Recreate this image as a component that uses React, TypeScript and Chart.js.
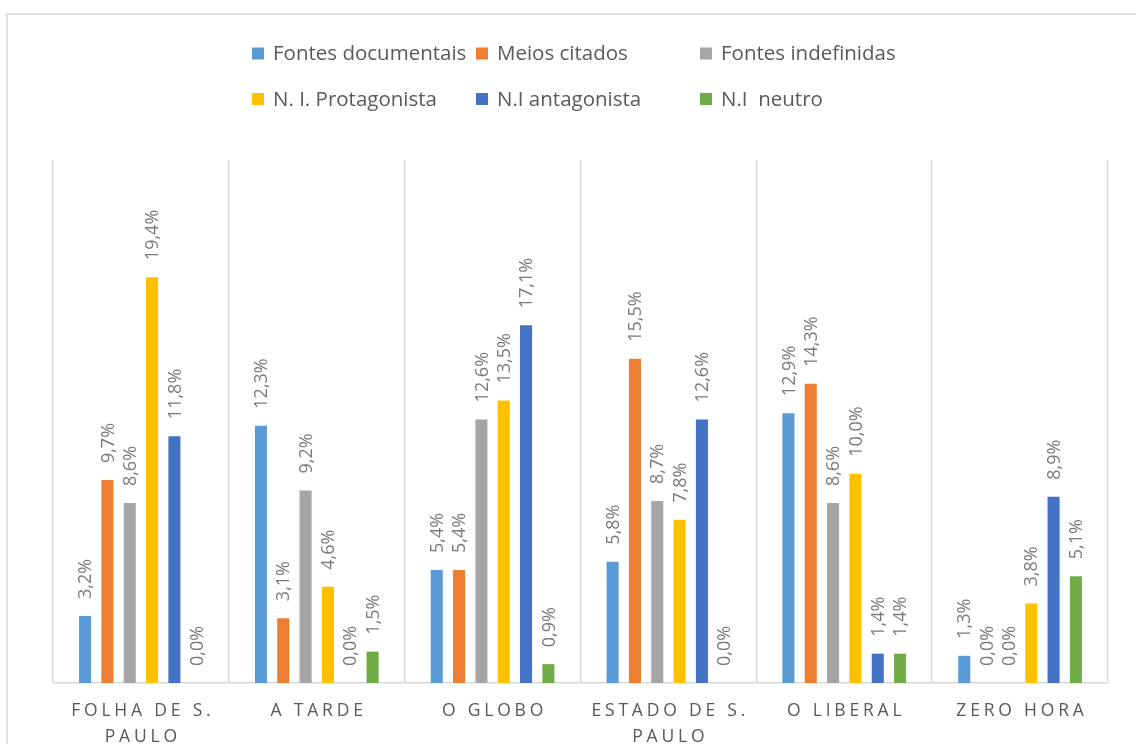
import React, { useEffect, useRef } from "react";
import { Chart, registerables } from "chart.js";

Chart.register(...registerables);

const categories: string[][] = [
  ["FOLHA DE S.", "PAULO"],
  ["A TARDE"],
  ["O GLOBO"],
  ["ESTADO DE S.", "PAULO"],
  ["O LIBERAL"],
  ["ZERO HORA"],
];

const seriesNames = [
  "Fontes documentais",
  "Meios citados",
  "Fontes indefinidas",
  "N. I. Protagonista",
  "N.I antagonista",
  "N.I  neutro",
];

const seriesColors = ["#5B9BD5", "#ED7D31", "#A5A5A5", "#FFC000", "#4472C4", "#70AD47"];

const fontesDocumentais = [3.2, 12.3, 5.4, 5.8, 12.9, 1.3];
const meiosCitados = [9.7, 3.1, 5.4, 15.5, 14.3, 0.0];
const fontesIndefinidas = [8.6, 9.2, 12.6, 8.7, 8.6, 0.0];
const niProtagonista = [19.4, 4.6, 13.5, 7.8, 10.0, 3.8];
const niAntagonista = [11.8, 0.0, 17.1, 12.6, 1.4, 8.9];
const niNeutro = [0.0, 1.5, 0.9, 0.0, 1.4, 5.1];

const seriesValues = [fontesDocumentais, meiosCitados, fontesIndefinidas, niProtagonista, niAntagonista, niNeutro];

const FONT = "'Open Sans', 'Liberation Sans', sans-serif";

const decorPlugin = {
  id: "decor",
  beforeDraw(chart: any) {
    const ctx = chart.ctx;
    ctx.save();
    ctx.fillStyle = "#ffffff";
    ctx.fillRect(0, 0, chart.width, chart.height);
    ctx.strokeStyle = "#d9d9d9";
    ctx.lineWidth = 1.5;
    ctx.strokeRect(7, 14, chart.width + 50, chart.height + 50);
    ctx.restore();
  },
  afterDraw(chart: any) {
    const ctx = chart.ctx;
    ctx.save();
    // legend
    const colX = [252, 476, 700];
    const rowY = [53.5, 99];
    ctx.font = `20.5px ${FONT}`;
    ctx.textBaseline = "middle";
    ctx.textAlign = "left";
    chart.data.datasets.forEach((ds: any, i: number) => {
      const x = colX[i % 3];
      const y = rowY[Math.floor(i / 3)];
      ctx.fillStyle = ds.backgroundColor;
      ctx.fillRect(x, y - 6, 12, 12);
      ctx.fillStyle = "#595959";
      ctx.fillText(ds.label, x + 21, y + 1);
    });
    // value labels
    ctx.font = `18px ${FONT}`;
    ctx.fillStyle = "#7a7a7a";
    chart.data.datasets.forEach((ds: any, i: number) => {
      const meta = chart.getDatasetMeta(i);
      meta.data.forEach((bar: any, j: number) => {
        const v = ds.data[j];
        const txt = v.toFixed(1).replace(".", ",") + "%";
        ctx.save();
        ctx.translate(bar.x, bar.y - 17);
        ctx.rotate(-Math.PI / 2);
        ctx.textAlign = "left";
        ctx.textBaseline = "middle";
        ctx.fillText(txt, 0, 1);
        ctx.restore();
      });
    });
    // x labels
    const xScale = chart.scales.x;
    ctx.font = `17.5px ${FONT}`;
    ctx.fillStyle = "#595959";
    ctx.textAlign = "center";
    ctx.textBaseline = "middle";
    const ls = 3.8;
    (ctx as any).letterSpacing = `${ls}px`;
    categories.forEach((lines, i) => {
      const cx = xScale.getPixelForValue(i);
      lines.forEach((line, k) => {
        ctx.fillText(line, cx + ls / 2, 711 + k * 26);
      });
    });
    (ctx as any).letterSpacing = "0px";
    ctx.restore();
  },
};

export default function App() {
  const ref = useRef<HTMLCanvasElement>(null);
  useEffect(() => {
    if (!ref.current) return;
    const chart = new Chart(ref.current, {
      type: "bar",
      data: {
        labels: categories.map((c) => c.join(" ")),
        datasets: seriesNames.map((name, i) => ({
          label: name,
          data: seriesValues[i],
          backgroundColor: seriesColors[i],
          borderWidth: 0,
          barPercentage: 0.54,
          categoryPercentage: 0.762,
        })),
      },
      options: {
        responsive: false,
        animation: false,
        maintainAspectRatio: false,
        layout: { padding: { left: 53, right: 28, top: 160, bottom: 61 } },
        plugins: { legend: { display: false }, tooltip: { enabled: false } },
        scales: {
          x: {
            offset: true,
            ticks: { display: false },
            grid: { display: true, offset: true, color: "#d9d9d9", lineWidth: 1.5, drawTicks: false },
            border: { display: true, color: "#d9d9d9", width: 1.5 },
          },
          y: {
            display: false,
            min: 0,
            max: 25,
          },
        },
      },
      plugins: [decorPlugin],
    });
    return () => chart.destroy();
  }, []);
  return (
    <div style={{ position: "fixed", left: 0, top: 0, width: 1136, height: 744 }}>
      <canvas ref={ref} width={1136} height={744} style={{ display: "block" }} />
    </div>
  );
}
